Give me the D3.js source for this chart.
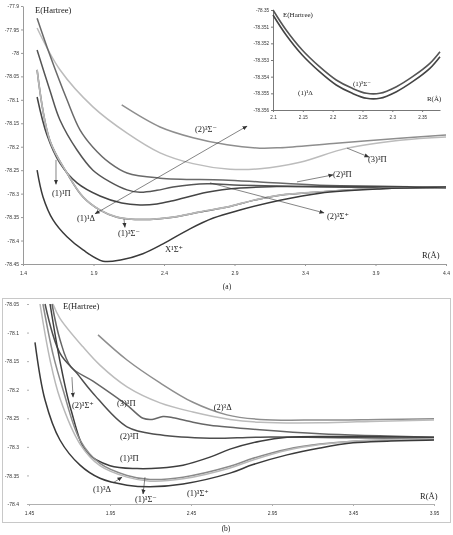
<!DOCTYPE html>
<html lang="en">
<head>
<meta charset="UTF-8">
<title>Potential energy curves</title>
<script src="https://d3js.org/d3.v7.min.js"></script>
<style>
  body { margin: 0; background: #fff; }
  #chart { filter: grayscale(1); }
  .lbl { font-family: "Liberation Serif", "DejaVu Serif", serif; font-size: 8.5px; fill: #222; }
</style>
</head>
<body>
<svg id="chart" width="453" height="535"></svg>
<script>
// ---------- panel (a): [R (Å), E (Hartree)] ----------
const aX1Sigma = [[1.5,-78.250],[1.542,-78.307],[1.613,-78.356],[1.712,-78.392],[1.826,-78.420],[1.967,-78.444],[2.1,-78.441],[2.25,-78.428],[2.393,-78.407],[2.584,-78.375],[2.75,-78.352],[2.939,-78.335],[3.223,-78.314],[3.506,-78.299],[3.932,-78.290],[4.4,-78.286]];
const a1Delta = [[1.5,-78.0363],[1.59,-78.1863],[1.712,-78.2563],[1.826,-78.3073],[1.946,-78.3353],[2.067,-78.3503],[2.25,-78.3553],[2.464,-78.3503],[2.655,-78.3393],[2.868,-78.3273],[3.05,-78.3133],[3.223,-78.3033],[3.506,-78.2963],[3.932,-78.2893],[4.4,-78.2863]];
const a1SigmaMinus = [[1.5,-78.036],[1.59,-78.186],[1.712,-78.256],[1.826,-78.307],[1.946,-78.335],[2.067,-78.350],[2.25,-78.355],[2.464,-78.350],[2.655,-78.339],[2.868,-78.327],[3.05,-78.313],[3.223,-78.303],[3.506,-78.296],[3.932,-78.289],[4.4,-78.286]];
const a1Pi = [[1.5,-78.094],[1.57,-78.175],[1.662,-78.235],[1.783,-78.277],[1.946,-78.305],[2.1,-78.320],[2.23,-78.324],[2.35,-78.322],[2.464,-78.315],[2.705,-78.297],[2.939,-78.288],[3.2,-78.285],[3.506,-78.284],[4.4,-78.286]];
const a2SigmaPlus = [[1.5,-77.994],[1.59,-78.079],[1.662,-78.143],[1.783,-78.207],[1.896,-78.250],[2.017,-78.275],[2.138,-78.292],[2.23,-78.297],[2.35,-78.293],[2.464,-78.286],[2.705,-78.279],[2.939,-78.282],[3.506,-78.286],[4.4,-78.288]];
const a2Pi = [[1.5,-77.926],[1.59,-78.004],[1.712,-78.100],[1.804,-78.164],[1.896,-78.201],[2.017,-78.235],[2.138,-78.256],[2.372,-78.267],[2.818,-78.271],[3.08,-78.275],[3.506,-78.282],[4.4,-78.286]];
const a3Pi = [[1.5,-77.947],[1.662,-78.036],[1.896,-78.115],[2.138,-78.171],[2.372,-78.213],[2.606,-78.236],[2.868,-78.248],[3.08,-78.247],[3.365,-78.233],[3.698,-78.203],[4.074,-78.186],[4.4,-78.179]];
const a2SigmaMinus = [[2.1,-78.111],[2.372,-78.158],[2.606,-78.181],[2.847,-78.196],[3.08,-78.203],[3.223,-78.202],[3.6,-78.193],[4.074,-78.182],[4.4,-78.175]];
const aXTicks = [1.4, 1.9, 2.4, 2.9, 3.4, 3.9, 4.4];
const aYTicks = [-77.9, -77.95, -78, -78.05, -78.1, -78.15, -78.2, -78.25, -78.3, -78.35, -78.4, -78.45];

// ---------- inset of (a) ----------
const in1SigmaMinus = [[2.1,-78.3500],[2.122,-78.3512],[2.149,-78.3524],[2.178,-78.3534],[2.206,-78.3542],[2.233,-78.3547],[2.257,-78.3550],[2.279,-78.3550],[2.307,-78.3546],[2.334,-78.3540],[2.363,-78.3532],[2.38,-78.3525]];
const in1Delta = [[2.1,-78.3503],[2.122,-78.3515],[2.149,-78.3527],[2.178,-78.3537],[2.206,-78.3545],[2.233,-78.3550],[2.257,-78.3553],[2.279,-78.3553],[2.307,-78.3549],[2.334,-78.3543],[2.363,-78.3535],[2.38,-78.3528]];
const inXTicks = [2.1, 2.15, 2.2, 2.25, 2.3, 2.35];
const inYTicks = [-78.35, -78.351, -78.352, -78.353, -78.354, -78.355, -78.356];

// ---------- panel (b) ----------
const b1SigmaPlus = [[1.487,-78.117],[1.549,-78.218],[1.641,-78.288],[1.765,-78.332],[1.888,-78.355],[2.055,-78.367],[2.197,-78.370],[2.401,-78.365],[2.691,-78.346],[2.833,-78.331],[3.043,-78.314],[3.246,-78.302],[3.45,-78.293],[3.66,-78.290],[3.95,-78.288]];
const b1Delta = [[1.536,-78.05],[1.6,-78.14],[1.66,-78.2],[1.765,-78.288],[1.888,-78.329],[2.055,-78.350],[2.197,-78.357],[2.401,-78.353],[2.691,-78.334],[2.833,-78.320],[3.043,-78.304],[3.246,-78.295],[3.45,-78.290],[3.95,-78.287]];
const b1SigmaMinus = [[1.518,-78.05],[1.58,-78.148],[1.641,-78.215],[1.765,-78.295],[1.888,-78.333],[2.055,-78.353],[2.197,-78.360],[2.401,-78.356],[2.691,-78.337],[2.833,-78.323],[3.043,-78.306],[3.246,-78.296],[3.45,-78.290],[3.95,-78.286]];
const b1Pi = [[1.58,-78.05],[1.641,-78.15],[1.709,-78.235],[1.808,-78.31],[1.95,-78.333],[2.117,-78.338],[2.259,-78.337],[2.401,-78.332],[2.567,-78.318],[2.691,-78.304],[2.876,-78.290],[3.043,-78.283],[3.45,-78.282],[3.95,-78.283]];
const b2Pi = [[1.549,-78.05],[1.641,-78.136],[1.745,-78.171],[1.845,-78.206],[2.055,-78.265],[2.259,-78.279],[2.567,-78.285],[2.876,-78.283],[3.45,-78.284],[3.95,-78.285]];
const b2SigmaPlus = [[1.592,-78.05],[1.641,-78.112],[1.709,-78.160],[1.845,-78.185],[2.055,-78.227],[2.154,-78.250],[2.21,-78.252],[2.277,-78.247],[2.339,-78.249],[2.462,-78.257],[2.567,-78.262],[2.876,-78.270],[3.246,-78.277],[3.95,-78.283]];
const b3Pi = [[1.598,-78.05],[1.641,-78.075],[1.783,-78.125],[1.888,-78.157],[2.055,-78.195],[2.259,-78.223],[2.462,-78.239],[2.691,-78.252],[2.876,-78.257],[3.246,-78.258],[3.617,-78.255],[3.95,-78.253]];
const b2Delta = [[1.876,-78.104],[2.055,-78.148],[2.259,-78.188],[2.462,-78.222],[2.672,-78.244],[2.876,-78.252],[3.246,-78.253],[3.617,-78.252],[3.95,-78.251]];
const bXTicks = [1.45, 1.95, 2.45, 2.95, 3.45, 3.95];
const bYTicks = [-78.05, -78.1, -78.15, -78.2, -78.25, -78.3, -78.35, -78.4];

const svg = d3.select("#chart");

svg.append("defs").append("marker")
    .attr("id", "head")
    .attr("viewBox", "0 0 6 6")
    .attr("refX", 5.5).attr("refY", 3)
    .attr("markerWidth", 5).attr("markerHeight", 5)
    .attr("markerUnits", "userSpaceOnUse")
    .attr("orient", "auto-start-reverse")
  .append("path")
    .attr("d", "M0,0.5 L6,3 L0,5.5 Z")
    .attr("fill", "#333");

// scales
const xA = d3.scaleLinear().domain([1.4, 4.4]).range([23, 446]);
const yA = d3.scaleLinear().domain([-78.45, -77.9]).range([264, 6]);
const xIn = d3.scaleLinear().domain([2.1, 2.38]).range([273, 440]);
const yIn = d3.scaleLinear().domain([-78.356, -78.35]).range([110, 10]);
const xB = d3.scaleLinear().domain([1.45, 3.95]).range([29, 434]);
const yB = d3.scaleLinear().domain([-78.4, -78.05]).range([504, 304]);

function drawAxes(x, y, xt, yt, opt) {
    const gx = svg.append("g")
        .attr("transform", `translate(0,${y.range()[0]})`)
        .call(d3.axisBottom(x).tickValues(xt).tickFormat(d => String(d))
              .tickSize(opt.tick).tickSizeOuter(0).tickPadding(opt.padX));
    const gy = svg.append("g")
        .attr("transform", `translate(${x.range()[0]},0)`)
        .call(d3.axisLeft(y).tickValues(yt).tickFormat(d => String(d))
              .tickSize(opt.tick).tickSizeOuter(0).tickPadding(opt.padY));
    [gx, gy].forEach(g => {
        g.attr("font-family", "Liberation Sans, sans-serif").attr("font-size", opt.font);
        g.selectAll("text").attr("fill", "#333");
        g.selectAll("path, line").attr("stroke", opt.axis);
    });
    if (opt.noYLine) gy.select(".domain").remove();
}

function drawCurves(x, y, series) {
    const line = d3.line()
        .x(d => x(d[0])).y(d => y(d[1]))
        .curve(d3.curveCatmullRom.alpha(0.5));
    svg.append("g").selectAll("path")
        .data(series)
        .enter().append("path")
            .attr("d", d => line(d.data))
            .attr("fill", "none")
            .attr("stroke", d => d.color)
            .attr("stroke-width", d => d.w || 1.5);
}

function drawLabels(x, y, labels) {
    svg.append("g").selectAll("text")
        .data(labels)
        .enter().append("text")
            .attr("class", "lbl")
            .attr("fill", "#222")
            .attr("x", d => x(d.r)).attr("y", d => y(d.e))
            .style("font-size", d => (d.size || 8.5) + "px")
            .text(d => d.t);
}

function drawArrows(x, y, arrows) {
    svg.append("g").selectAll("line")
        .data(arrows)
        .enter().append("line")
            .attr("x1", d => x(d.r1)).attr("y1", d => y(d.e1))
            .attr("x2", d => x(d.r2)).attr("y2", d => y(d.e2))
            .attr("stroke", "#333").attr("stroke-width", 0.6)
            .attr("marker-end", "url(#head)")
            .attr("marker-start", d => d.both ? "url(#head)" : null);
}

// ---------- panel (a) ----------
drawAxes(xA, yA, aXTicks, aYTicks, {tick: 2, padX: 5, padY: 2, font: 5, axis: "#9a9a9a"});
drawCurves(xA, yA, [
    {data: a2SigmaMinus, color: "#8e8e8e"},
    {data: a3Pi, color: "#bcbcbc"},
    {data: a2Pi, color: "#6a6a6a"},
    {data: a2SigmaPlus, color: "#555"},
    {data: a1Pi, color: "#454545"},
    {data: a1Delta, color: "#4a4a4a"},
    {data: a1SigmaMinus, color: "#b8b8b8", w: 1.7},
    {data: aX1Sigma, color: "#3a3a3a"}
]);
drawArrows(xA, yA, [
    {r1: 1.634, e1: -78.228, r2: 1.634, e2: -78.280},
    {r1: 2.116, e1: -78.354, r2: 2.123, e2: -78.372},
    {r1: 1.911, e1: -78.343, r2: 2.989, e2: -78.156, both: true},
    {r1: 3.698, e1: -78.203, r2: 3.854, e2: -78.222},
    {r1: 3.343, e1: -78.275, r2: 3.599, e2: -78.260},
    {r1: 2.726, e1: -78.277, r2: 3.535, e2: -78.341}
]);
drawLabels(xA, yA, [
    {t: "E(Hartree)", r: 1.485, e: -77.915},
    {t: "(1)¹Π", r: 1.606, e: -78.305},
    {t: "(1)¹Δ", r: 1.783, e: -78.358},
    {t: "(1)³Σ⁻", r: 2.074, e: -78.390},
    {t: "X¹Σ⁺", r: 2.407, e: -78.424},
    {t: "(2)³Σ⁻", r: 2.62, e: -78.169},
    {t: "(3)³Π", r: 3.847, e: -78.233},
    {t: "(2)³Π", r: 3.599, e: -78.265},
    {t: "(2)³Σ⁺", r: 3.556, e: -78.354},
    {t: "R(Å)", r: 4.23, e: -78.437}
]);

// ---------- inset ----------
svg.append("rect").attr("x", xIn(2.1)).attr("y", yIn(-78.35))
    .attr("width", xIn(2.38) - xIn(2.1)).attr("height", yIn(-78.356) - yIn(-78.35))
    .attr("fill", "#fff");
drawAxes(xIn, yIn, inXTicks, inYTicks, {tick: 2, padX: 4, padY: 2, font: 4.6, axis: "#777"});
drawCurves(xIn, yIn, [
    {data: in1SigmaMinus, color: "#555", w: 1.6},
    {data: in1Delta, color: "#444", w: 1.6}
]);
drawLabels(xIn, yIn, [
    {t: "E(Hartree)", r: 2.1168, e: -78.35042, size: 7},
    {t: "(1)³Σ⁻", r: 2.234, e: -78.35456, size: 7},
    {t: "(1)¹Δ", r: 2.142, e: -78.3551, size: 7},
    {t: "R(Å)", r: 2.358, e: -78.35546, size: 7}
]);

// ---------- panel (b) ----------
svg.append("rect").attr("x", 2.5).attr("y", 298.5).attr("width", 448).attr("height", 224)
    .attr("fill", "none").attr("stroke", "#c8c8c8").attr("stroke-width", 1);
drawAxes(xB, yB, bXTicks, bYTicks, {tick: 2, padX: 5, padY: 8, font: 5, axis: "#b0b0b0", noYLine: true});
drawCurves(xB, yB, [
    {data: b2Delta, color: "#8e8e8e"},
    {data: b3Pi, color: "#bcbcbc"},
    {data: b2SigmaPlus, color: "#666"},
    {data: b2Pi, color: "#4e4e4e"},
    {data: b1Pi, color: "#3e3e3e"},
    {data: b1Delta, color: "#8a8a8a"},
    {data: b1SigmaMinus, color: "#b8b8b8"},
    {data: b1SigmaPlus, color: "#3a3a3a"}
]);
drawArrows(xB, yB, [
    {r1: 1.715, e1: -78.178, r2: 1.722, e2: -78.213},
    {r1: 1.969, e1: -78.363, r2: 2.024, e2: -78.353},
    {r1: 2.166, e1: -78.353, r2: 2.154, e2: -78.3825}
]);
drawLabels(xB, yB, [
    {t: "E(Hartree)", r: 1.66, e: -78.0588},
    {t: "(2)³Σ⁺", r: 1.715, e: -78.232},
    {t: "(3)³Π", r: 1.993, e: -78.2285},
    {t: "(2)³Δ", r: 2.59, e: -78.235},
    {t: "(2)³Π", r: 2.012, e: -78.286},
    {t: "(1)³Π", r: 2.012, e: -78.325},
    {t: "(1)³Δ", r: 1.845, e: -78.379},
    {t: "(1)³Σ⁻", r: 2.104, e: -78.3965},
    {t: "(1)³Σ⁺", r: 2.425, e: -78.386},
    {t: "R(Å)", r: 3.864, e: -78.391}
]);

// captions
svg.append("text").attr("class", "lbl").attr("x", 227).attr("y", 289)
    .attr("text-anchor", "middle").style("font-size", "7.5px").text("(a)");
svg.append("text").attr("class", "lbl").attr("x", 226).attr("y", 531)
    .attr("text-anchor", "middle").style("font-size", "7.5px").text("(b)");
</script>
</body>
</html>
